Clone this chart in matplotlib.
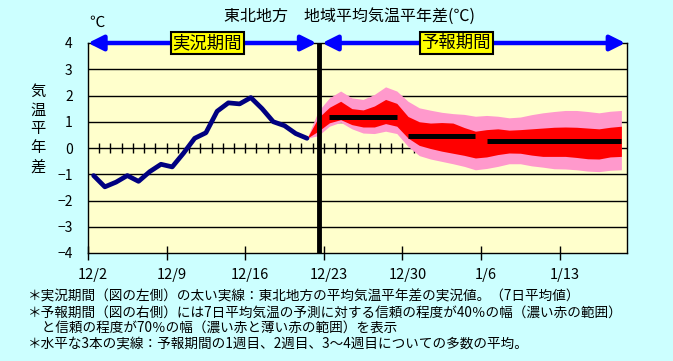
import numpy as np
import matplotlib
matplotlib.use('Agg')
import matplotlib.pyplot as plt
from matplotlib.patches import FancyArrowPatch
from matplotlib.transforms import ScaledTranslation

plt.rcParams['font.family'] = ['Noto Sans CJK JP', 'DejaVu Sans']

# colours
BG = '#CCFFFF'
PLOT_BG = '#FFFFCC'
OBS_COLOR = '#000080'
RED = '#FF0000'
PINK = '#FF99CC'
ARROW_BLUE = '#0000FF'

# ===== data (x = days since 12/2) =====
tick_pos = [0, 7, 14, 21, 28, 35, 42]
tick_labels = ['12/2', '12/9', '12/16', '12/23', '12/30', '1/6', '1/13']

obs_days = [0.5, 1.5, 2.5, 3.5, 4.5, 5.5, 6.5, 7.5, 8.5, 9.5,
            10.5, 11.5, 12.5, 13.5, 14.5, 15.5, 16.5, 17.5, 18.5, 19.5]
obs_vals = [-1.05, -1.48, -1.30, -1.05, -1.27, -0.90, -0.62, -0.72, -0.20, 0.37,
            0.58, 1.40, 1.72, 1.68, 1.92, 1.50, 1.00, 0.85, 0.55, 0.37]

fc_days = [19.5, 20.5, 21.5, 22.5, 23.5, 24.5, 25.5, 26.5, 27.5, 28.5,
           29.5, 30.5, 31.5, 32.5, 33.5, 34.5, 35.5, 36.5, 37.5, 38.5,
           39.5, 40.5, 41.5, 42.5, 43.5, 44.5, 45.5, 46.5, 47.5]
pink_top = [0.37, 1.40, 1.91, 2.17, 1.91, 1.85, 2.04, 2.33, 2.17, 1.78,
            1.53, 1.44, 1.36, 1.31, 1.28, 1.21, 1.24, 1.21, 1.15, 1.18,
            1.27, 1.34, 1.39, 1.43, 1.43, 1.39, 1.34, 1.40, 1.43]
red_top = [0.37, 1.15, 1.55, 1.78, 1.50, 1.45, 1.60, 1.85, 1.70, 1.20,
           1.00, 0.95, 0.97, 0.95, 0.78, 0.64, 0.70, 0.73, 0.68, 0.70,
           0.73, 0.76, 0.79, 0.80, 0.79, 0.76, 0.73, 0.79, 0.83]
red_bottom = [0.37, 0.64, 0.96, 1.08, 0.89, 0.80, 0.80, 0.93, 0.83, 0.38,
              0.10, -0.02, -0.12, -0.20, -0.28, -0.38, -0.34, -0.25, -0.19, -0.20,
              -0.27, -0.32, -0.32, -0.32, -0.36, -0.41, -0.42, -0.34, -0.32]
pink_bottom = [0.37, 0.47, 0.83, 0.98, 0.73, 0.57, 0.55, 0.64, 0.55, 0.06,
               -0.29, -0.42, -0.51, -0.60, -0.70, -0.83, -0.78, -0.70, -0.60, -0.60,
               -0.68, -0.73, -0.79, -0.80, -0.83, -0.88, -0.90, -0.85, -0.83]

week_start = [21.5, 28.5, 35.5]
week_end = [27.5, 34.5, 47.5]
week_mean = [1.20, 0.47, 0.28]

split_day = 20.6  # boundary between observed and forecast

notes = [
    '＊実況期間（図の左側）の太い実線：東北地方の平均気温平年差の実況値。（7日平均値）',
    '＊予報期間（図の右側）には7日平均気温の予測に対する信頼の程度が40％の幅（濃い赤の範囲）',
    '　と信頼の程度が70％の幅（濃い赤と薄い赤の範囲）を表示',
    '＊水平な3本の実線：予報期間の1週目、2週目、3～4週目についての多数の平均。',
]

# ===== figure =====
fig = plt.figure(figsize=(6.73, 3.61), dpi=100, facecolor=BG)
ax = fig.add_axes([88 / 673, 1 - 253 / 361, 539 / 673, 210 / 361])
ax.set_facecolor(PLOT_BG)
ax.set_xlim(0, 48)
ax.set_ylim(-4, 4)

# grid lines and zero line with day ticks
for y in [-3, -2, -1, 1, 2, 3]:
    ax.axhline(y, color='black', lw=1, zorder=1)
ax.axhline(0, color='black', lw=1, zorder=1)
ax.vlines(np.arange(1, 48), -0.2, 0.2, color='black', lw=1, zorder=1)

# forecast bands
ax.fill_between(fc_days, pink_bottom, pink_top, color=PINK, lw=0, zorder=2)
ax.fill_between(fc_days, red_bottom, red_top, color=RED, lw=0, zorder=3)
for s, e, m in zip(week_start, week_end, week_mean):
    ax.plot([s, e], [m, m], color='black', lw=3.6, solid_capstyle='butt', zorder=5)

# observed
ax.plot(obs_days, obs_vals, color=OBS_COLOR, lw=3.4, solid_joinstyle='round',
        solid_capstyle='round', zorder=4)

ax.axvline(split_day, color='black', lw=3.5, zorder=6)

# axes styling
for sp in ax.spines.values():
    sp.set_color('black')
    sp.set_linewidth(1)
ax.set_yticks(range(-4, 5))
ax.set_yticklabels([str(v).replace('-', '−') for v in range(-4, 5)], fontsize=10)
ax.tick_params(axis='y', length=0, pad=11)
ax.set_xticks(tick_pos)
ax.set_xticklabels(tick_labels, fontsize=10.5)
ax.tick_params(axis='x', direction='inout', length=10, width=1, pad=6)
offset = ScaledTranslation(5 / 100, 0, fig.dpi_scale_trans)
for lbl in ax.get_xticklabels():
    lbl.set_transform(lbl.get_transform() + offset)

# period arrows along top
for x0, x1 in [(0, 20.35), (20.85, 47.85)]:
    arr = FancyArrowPatch((x0, 4), (x1, 4),
                          arrowstyle='<|-|>,head_length=0.9,head_width=0.45',
                          mutation_scale=10, color=ARROW_BLUE, lw=3.2,
                          shrinkA=0, shrinkB=0, clip_on=False, zorder=7)
    ax.add_patch(arr)
box = dict(boxstyle='square,pad=0.1', facecolor='#FFFF00', edgecolor='black', lw=1.5)
ax.text(10.6, 4, '実況期間', ha='center', va='center', fontsize=12.5, bbox=box, zorder=8)
ax.text(32.8, 4, '予報期間', ha='center', va='center', fontsize=12.5, bbox=box, zorder=8)

# titles and labels
fig.text(350 / 673, 1 - 16 / 361, '東北地方　地域平均気温平年差(℃)',
         ha='center', va='center', fontsize=11.5)
fig.text(97 / 673, 1 - 22 / 361, '℃', ha='center', va='center', fontsize=11)
fig.text(38 / 673, 1 - 129 / 361, '\n'.join('気温平年差'), ha='center', va='center',
         fontsize=11, linespacing=1.15)

for i, line in enumerate(notes):
    fig.text(28 / 673, 1 - (297 + 15.5 * i) / 361, line, ha='left', va='center', fontsize=9.8)

fig.savefig('out.png', dpi=100, facecolor=BG)
